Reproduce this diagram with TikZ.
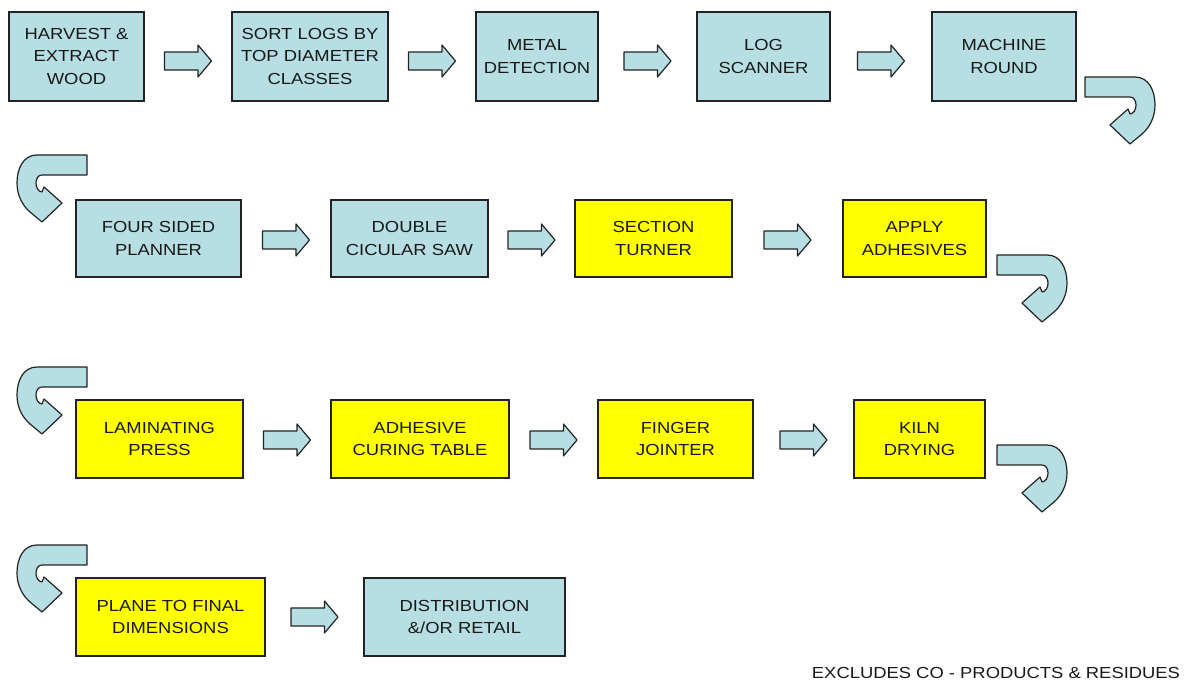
\documentclass[tikz,border=0pt]{standalone}
\usepackage{fontspec}
\setmainfont[FakeStretch=1.15]{Liberation Sans}
\usetikzlibrary{calc}

\definecolor{boxblue}{RGB}{183,222,226}
\definecolor{boxyellow}{RGB}{255,255,0}
\definecolor{edge}{RGB}{35,35,35}
\definecolor{ink}{RGB}{25,25,25}

\tikzset{
  stage/.style={draw=edge, line width=1.4pt, text=ink, align=center,
    inner sep=0pt, font=\fontsize{16}{22.5}\selectfont},
  bluestage/.style={stage, fill=boxblue},
  yellowstage/.style={stage, fill=boxyellow},
  sz/.style 2 args={minimum width=#1pt, minimum height=#2pt},
  arrowline/.style={draw=edge, fill=boxblue, line width=1.2pt, line join=round},
  % straight block arrow between two stages
  pics/flowarrow/.style={code={
    \draw[arrowline] (-23.5,-9) -- (10,-9) -- (10,-16) -- (23.5,0)
      -- (10,16) -- (10,9) -- (-23.5,9) -- cycle;}},
  % U-turn block arrow leading to the next row
  pics/uturn/.style={code={
    \draw[arrowline] (-45,27) -- (5,27)
      .. controls (19,27) and (25,13) .. (25,-1)
      .. controls (25,-14) and (19,-24) .. (12,-30)
      -- (0,-40) -- (-20,-21) -- (-2,-5) -- (0,-10)
      .. controls (8,-9) and (8,7) .. (0,7)
      -- (-45,7) -- cycle;}},
  caption/.style={text=ink, inner sep=0pt, font=\fontsize{16}{20}\selectfont},
}

\begin{document}
\begin{tikzpicture}[x=1pt, y=1pt]
  \fill[white] (0,0) rectangle (1189,682);
  \useasboundingbox (0,0) rectangle (1189,682);

  % row 1
  \node[bluestage, sz={135}{89}] (harvest) at (76.5,625.5) {HARVEST \&\\EXTRACT\\WOOD};
  \node[bluestage, sz={156}{89}] (sort) at (310,625.5) {SORT LOGS BY\\TOP DIAMETER\\CLASSES};
  \node[bluestage, sz={122}{89}] (metal) at (537,625.5) {METAL\\DETECTION};
  \node[bluestage, sz={133}{89}] (scanner) at (763.5,625.5) {LOG\\SCANNER};
  \node[bluestage, sz={144}{89}] (round) at (1004,625.5) {MACHINE\\ROUND};

  % row 2
  \node[bluestage, sz={165}{77}] (planner) at (158.5,443.5) {FOUR SIDED\\PLANNER};
  \node[bluestage, sz={157}{77}] (saw) at (409.5,443.5) {DOUBLE\\CICULAR SAW};
  \node[yellowstage, sz={157}{77}] (turner) at (653.5,443.5) {SECTION\\TURNER};
  \node[yellowstage, sz={143}{77}] (adhesives) at (914.5,443.5) {APPLY\\ADHESIVES};

  % row 3
  \node[yellowstage, sz={167}{78}] (press) at (159.5,243) {LAMINATING\\PRESS};
  \node[yellowstage, sz={178}{78}] (curing) at (420,243) {ADHESIVE\\CURING TABLE};
  \node[yellowstage, sz={155}{78}] (jointer) at (675.5,243) {FINGER\\JOINTER};
  \node[yellowstage, sz={131}{78}] (kiln) at (919.5,243) {KILN\\DRYING};

  % row 4
  \node[yellowstage, sz={189}{78}] (plane) at (170.5,65) {PLANE TO FINAL\\DIMENSIONS};
  \node[bluestage, sz={201}{78}] (retail) at (464.5,65) {DISTRIBUTION\\\&/OR RETAIL};

  % straight arrows
  \pic at ($(harvest.east)!0.5!(sort.west)+(0,-4.5)$) {flowarrow};
  \pic at ($(sort.east)!0.5!(metal.west)+(0,-4.5)$) {flowarrow};
  \pic at ($(metal.east)!0.5!(scanner.west)+(0,-4.5)$) {flowarrow};
  \pic at ($(scanner.east)!0.5!(round.west)+(0,-4.5)$) {flowarrow};

  \pic at ($(planner.east)!0.5!(saw.west)+(0,-1.5)$) {flowarrow};
  \pic at ($(saw.east)!0.5!(turner.west)+(0,-1.5)$) {flowarrow};
  \pic at ($(turner.east)!0.5!(adhesives.west)+(0,-1.5)$) {flowarrow};

  \pic at ($(press.east)!0.5!(curing.west)+(0,-1)$) {flowarrow};
  \pic at ($(curing.east)!0.5!(jointer.west)+(0,-1)$) {flowarrow};
  \pic at ($(jointer.east)!0.5!(kiln.west)+(0,-1)$) {flowarrow};

  \pic at ($(plane.east)!0.5!(retail.west)$) {flowarrow};

  % turns between rows
  \coordinate (turnA) at (1130,578);
  \coordinate (turnB) at (1042,400);
  \coordinate (turnC) at (1042,210);
  \coordinate (backA) at (42,500);
  \coordinate (backB) at (42,288);
  \coordinate (backC) at (42,110);

  \pic at (turnA) {uturn};
  \pic at (turnB) {uturn};
  \pic at (turnC) {uturn};
  \pic[xscale=-1] at (backA) {uturn};
  \pic[xscale=-1] at (backB) {uturn};
  \pic[xscale=-1] at (backC) {uturn};

  \node[caption] (note) at (996,9) {EXCLUDES CO - PRODUCTS \& RESIDUES};
\end{tikzpicture}
\end{document}
